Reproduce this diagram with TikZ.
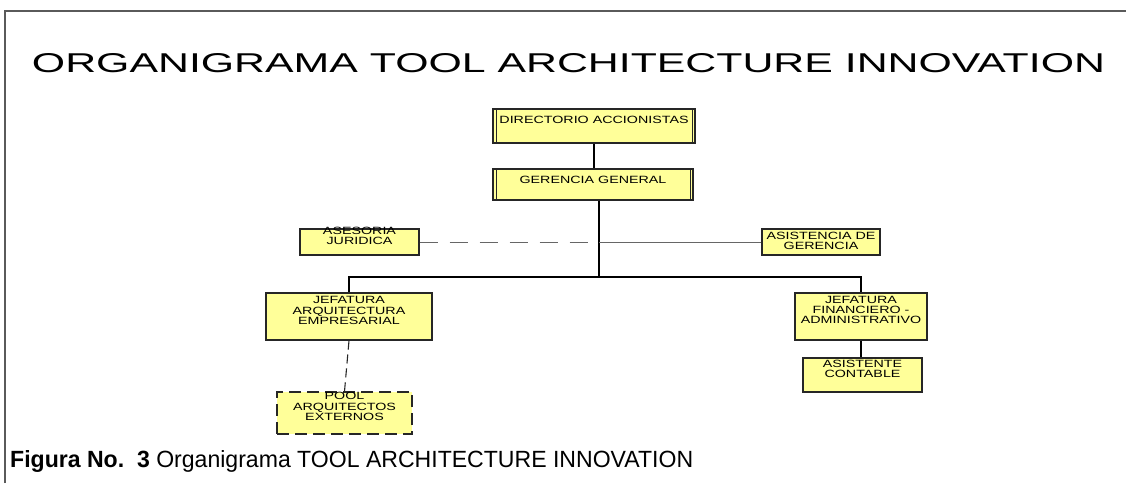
\documentclass[tikz,border=0pt]{standalone}
\usepackage{fontspec}
\setmainfont{Liberation Sans}
\setsansfont{Liberation Sans}
\newfontfamily\unitfont[FakeStretch=1.36]{Liberation Sans}
\usepackage{graphicx}
\usepackage{xcolor}
\usepackage{tikz}

\definecolor{unitfill}{HTML}{FFFF99}
\definecolor{framegray}{HTML}{5A5A5A}
\newcommand{\unitlines}[2][5pt]{\raisebox{#1}[\height][\depth]{%
  \begin{tabular}{@{}c@{}}#2\end{tabular}}}

\begin{document}
\begin{tikzpicture}[
  x=1pt, y=-1pt,
  font=\unitfont\fontsize{10.5}{10}\selectfont,
  unit/.style 2 args={draw=black!85, line width=1.1pt, fill=unitfill,
                      inner sep=0pt, minimum width=#1, minimum height=#2},
  mainunit/.style 2 args={unit={#1}{#2}, path picture={
      \draw[line width=0.7pt]
        ([xshift=3pt]path picture bounding box.north west) --
        ([xshift=3pt]path picture bounding box.south west)
        ([xshift=-3pt]path picture bounding box.north east) --
        ([xshift=-3pt]path picture bounding box.south east);}},
  extunit/.style 2 args={unit={#1}{#2}, dash pattern=on 12pt off 6pt},
  trunk/.style={line width=1.8pt, black},
  staff/.style={line width=0.9pt, black!60},
  advice/.style={staff, dash pattern=on 18pt off 12pt},
  external/.style={line width=1.1pt, black!85, dash pattern=on 9pt off 5pt},
  frame/.style={line width=1.2pt, framegray}
]
\useasboundingbox (0,0) rectangle (1126,483);
\draw[frame] (5,483) -- (5,11) -- (1126,11);

\node[inner sep=0pt, font=\normalfont\fontsize{24}{28}\selectfont] (title)
  at (568.5,63.5) {\resizebox{1073pt}{19pt}{ORGANIGRAMA TOOL ARCHITECTURE INNOVATION}};

\node[mainunit={202pt}{34pt}] (directorio) at (594,126)
  {\unitlines{DIRECTORIO ACCIONISTAS}};
\node[mainunit={200pt}{31pt}] (gerencia) at (593,184.5)
  {\unitlines[3.5pt]{GERENCIA GENERAL}};
\node[unit={119pt}{26pt}] (asesoria) at (359.5,242)
  {\unitlines{ASESORIA\\JURIDICA}};
\node[unit={118pt}{26pt}] (asistencia) at (821,242)
  {\unitlines[0pt]{ASISTENCIA DE\\GERENCIA}};
\node[unit={166pt}{47pt}] (arquitectura) at (349,316.5)
  {\unitlines[4.5pt]{JEFATURA\\ARQUITECTURA\\EMPRESARIAL}};
\node[unit={132pt}{47pt}] (financiero) at (861,316.5)
  {\unitlines{JEFATURA\\FINANCIERO -\\ADMINISTRATIVO}};
\node[extunit={135pt}{42pt}] (pool) at (344.5,413)
  {\unitlines{POOL\\ARQUITECTOS\\EXTERNOS}};
\node[unit={119pt}{34pt}] (contable) at (862.5,375)
  {\unitlines{ASISTENTE\\CONTABLE}};

% lineas de mando
\coordinate (tap) at (599,277);
\draw[trunk] (directorio.south) -- (directorio.south |- gerencia.north);
\draw[trunk] ([xshift=6pt]gerencia.south) -- (tap);
\draw[trunk] (arquitectura.north) -- (arquitectura.north |- tap)
  -- (financiero.north |- tap) -- (financiero.north);
\draw[trunk] (financiero.south) -- (financiero.south |- contable.north);
\draw[advice] (asesoria.east) -- (asesoria.east -| tap);
\draw[staff] (asistencia.west) -- (asistencia.west -| tap);
\draw[external] (arquitectura.south) -- (pool.north);

\node[inner sep=0pt, anchor=base west, font=\normalfont\fontsize{20}{24}\selectfont]
  (caption) at (10,467)
  {\resizebox{683pt}{17pt}{\textbf{Figura No.~~3} Organigrama TOOL ARCHITECTURE INNOVATION}};
\end{tikzpicture}
\end{document}
